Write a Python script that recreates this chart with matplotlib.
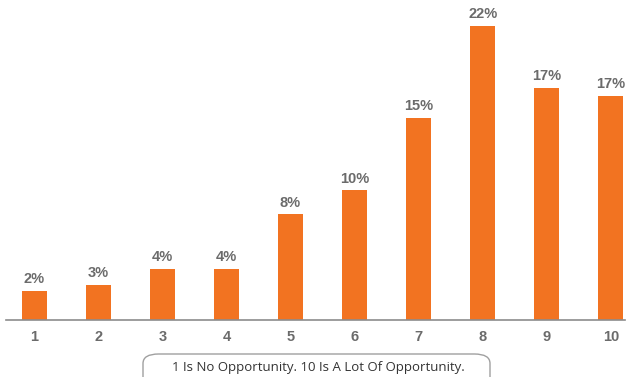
import matplotlib.pyplot as plt
from matplotlib.patches import FancyBboxPatch

# opportunity rating (1-10) and share of respondents, in percent
ratings = [1, 2, 3, 4, 5, 6, 7, 8, 9, 10]
shares = [2.2, 2.6, 3.8, 3.8, 7.9, 9.7, 15.1, 22.0, 17.4, 16.8]
caption = "1 Is No Opportunity. 10 Is A Lot Of Opportunity."

bar_color = "#F27321"
label_color = "#6B6B6B"

fig = plt.figure(figsize=(6.26, 3.77), dpi=100)
# axes placed in pixels: left 6, baseline at 320 from top, running to the top edge
ax = fig.add_axes([6 / 626, 57 / 377, 619 / 626, 320 / 377])

ax.bar(ratings, shares, width=0.39, color=bar_color, zorder=2)

for x, v in zip(ratings, shares):
    ax.annotate(f"{round(v)}%", (x, v), xytext=(0, 3.5), textcoords="offset points",
                ha="center", va="bottom", fontsize=10.5, fontweight="bold",
                color=label_color, family="Liberation Sans")

ax.set_xlim(0.56, 10.22)
ax.set_ylim(0, 23.95)
ax.set_xticks(ratings)
ax.set_xticklabels([str(r) for r in ratings], fontsize=10.5, fontweight="bold",
                   color=label_color, family="Liberation Sans")
ax.tick_params(axis="x", length=0, pad=7)
ax.set_yticks([])
for side in ["top", "right", "left"]:
    ax.spines[side].set_visible(False)
ax.spines["bottom"].set_color("#8C8C8C")
ax.spines["bottom"].set_linewidth(1.2)

# caption in a rounded box below the axis
box = FancyBboxPatch((143 / 626, -10 / 377), 347 / 626, 33 / 377,
                     boxstyle="round,pad=0,rounding_size=0.025",
                     transform=fig.transFigure, facecolor="white",
                     edgecolor="#A0A0A0", linewidth=1.0)
fig.patches.append(box)
fig.text(318 / 626, 10 / 377, caption, ha="center", va="center",
         fontsize=9.5, color="#333333", family="Open Sans")

fig.savefig("out.png", dpi=100)
